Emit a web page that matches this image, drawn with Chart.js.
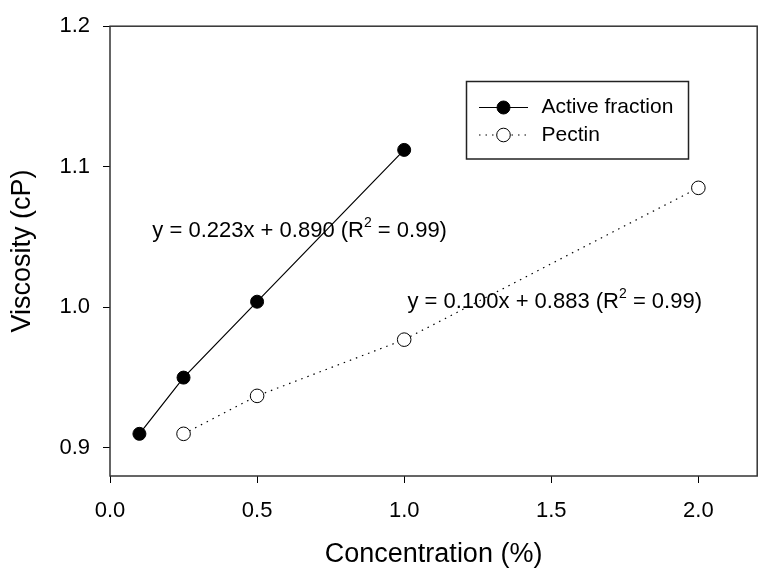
<!DOCTYPE html>
<html>
<head>
<meta charset="utf-8">
<script src="https://cdn.jsdelivr.net/npm/chart.js@4.4.0/dist/chart.umd.min.js"></script>
<style>
  body { margin: 0; background: #fff; }
</style>
</head>
<body>
<canvas id="grafico" width="765" height="574"></canvas>
<script>
// Datos
const activeX = [0.1, 0.25, 0.5, 1.0];
const activeY = [0.910, 0.950, 1.004, 1.112];
const pectinX = [0.25, 0.5, 1.0, 2.0];
const pectinY = [0.910, 0.937, 0.977, 1.085];
const xTicks = [0, 0.5, 1.0, 1.5, 2.0];
const yTicks = [0.9, 1.0, 1.1, 1.2];
const seriesNames = ["Active fraction", "Pectin"];
const fitLabels = [
    ["y = 0.223x + 0.890 (R", "2", " = 0.99)"],
    ["y = 0.100x + 0.883 (R", "2", " = 0.99)"]
];

const FONT = "'Liberation Sans', Arial, sans-serif";

function toPoints(xs, ys) {
    return xs.map((x, i) => ({ x: x, y: ys[i] }));
}

// marco, ecuaciones y leyenda
const extras = {
    id: "extras",
    afterDraw(chart) {
        const ctx = chart.ctx;
        const a = chart.chartArea;
        const sx = chart.scales.x;
        const sy = chart.scales.y;

        ctx.save();
        ctx.strokeStyle = "#333";
        ctx.lineWidth = 1.5;
        ctx.strokeRect(a.left, a.top, a.right - a.left, a.bottom - a.top);

        // ecuaciones de ajuste
        const spots = [[0.144, 1.054], [1.011, 1.0036]];
        ctx.fillStyle = "#000";
        ctx.textBaseline = "middle";
        ctx.textAlign = "left";
        fitLabels.forEach((parts, i) => {
            let px = sx.getPixelForValue(spots[i][0]);
            const py = sy.getPixelForValue(spots[i][1]);
            ctx.font = "22px " + FONT;
            ctx.fillText(parts[0], px, py);
            px += ctx.measureText(parts[0]).width;
            ctx.font = "14px " + FONT;
            ctx.fillText(parts[1], px, py - 8);
            px += ctx.measureText(parts[1]).width;
            ctx.font = "22px " + FONT;
            ctx.fillText(parts[2], px, py);
        });

        // leyenda
        ctx.strokeStyle = "#222";
        ctx.lineWidth = 1.5;
        ctx.strokeRect(466.5, 81.5, 222, 77.5);
        const rows = [107.5, 135];
        chart.data.datasets.forEach((ds, i) => {
            const y = rows[i];
            ctx.strokeStyle = ds.borderColor;
            ctx.lineWidth = ds.borderWidth;
            ctx.setLineDash(ds.borderDash || []);
            ctx.beginPath();
            ctx.moveTo(479, y);
            ctx.lineTo(528, y);
            ctx.stroke();
            ctx.setLineDash([]);
            ctx.beginPath();
            ctx.arc(503.5, y, ds.pointRadius, 0, Math.PI * 2);
            ctx.fillStyle = ds.pointBackgroundColor;
            ctx.fill();
            ctx.strokeStyle = ds.pointBorderColor;
            ctx.lineWidth = ds.pointBorderWidth;
            ctx.stroke();
            ctx.fillStyle = "#000";
            ctx.font = "21px " + FONT;
            ctx.fillText(ds.label, 541.5, y);
        });
        ctx.restore();
    }
};

new Chart(document.getElementById("grafico").getContext("2d"), {
    type: "line",
    data: {
        datasets: [{
            label: seriesNames[0],
            data: toPoints(activeX, activeY),
            borderColor: "#000",
            borderWidth: 1.2,
            pointRadius: 6.5,
            pointBackgroundColor: "#000",
            pointBorderColor: "#000",
            pointBorderWidth: 1,
            tension: 0
        }, {
            label: seriesNames[1],
            data: toPoints(pectinX, pectinY),
            borderColor: "#000",
            borderWidth: 1.2,
            borderDash: [1.5, 5],
            pointRadius: 6.8,
            pointBackgroundColor: "#fff",
            pointBorderColor: "#000",
            pointBorderWidth: 1,
            tension: 0
        }]
    },
    options: {
        responsive: false,
        animation: false,
        layout: { padding: { top: 20, right: 4, left: 0, bottom: 0 } },
        plugins: {
            legend: { display: false },
            tooltip: { enabled: false }
        },
        scales: {
            x: {
                type: "linear",
                min: 0,
                max: 2.2,
                afterBuildTicks: s => { s.ticks = xTicks.map(v => ({ value: v })); },
                afterFit: s => { s.height = 98; },
                grid: { drawOnChartArea: false, drawTicks: true, tickLength: 7, color: "#000", lineWidth: 1 },
                border: { display: false },
                ticks: {
                    color: "#000",
                    padding: 15,
                    font: { family: FONT, size: 22 },
                    callback: v => v.toFixed(1)
                },
                title: {
                    display: true,
                    text: "Concentration (%)",
                    color: "#000",
                    font: { family: FONT, size: 27 },
                    padding: { top: 0, bottom: 3 }
                }
            },
            y: {
                type: "linear",
                min: 0.88,
                max: 1.2,
                afterBuildTicks: s => { s.ticks = yTicks.map(v => ({ value: v })); },
                afterFit: s => { s.width = 110; },
                grid: { drawOnChartArea: false, drawTicks: true, tickLength: 7, color: "#000", lineWidth: 1 },
                border: { display: false },
                ticks: {
                    color: "#000",
                    padding: 13,
                    font: { family: FONT, size: 22 },
                    callback: v => v.toFixed(1)
                },
                title: {
                    display: true,
                    text: "Viscosity (cP)",
                    color: "#000",
                    font: { family: FONT, size: 27 },
                    padding: { top: 6, bottom: 0 }
                }
            }
        }
    },
    plugins: [extras]
});
</script>
</body>
</html>
